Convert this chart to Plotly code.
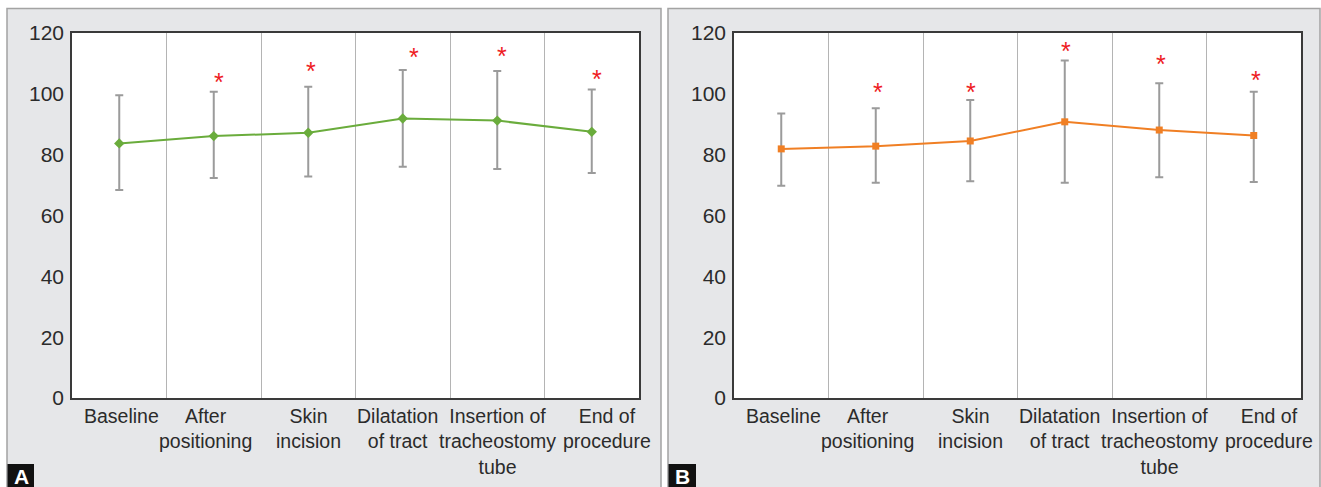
import plotly.graph_objects as go

categories = ["Baseline", "After<br>positioning", "Skin<br>incision", "Dilatation<br>of tract",
              "Insertion of<br>tracheostomy<br>tube", "End of<br>procedure"]
y_ticks = [0, 20, 40, 60, 80, 100, 120]

# Panel A (green)
a_mean = [83.7, 86.1, 87.2, 91.9, 91.2, 87.5]
a_upper = [99.5, 100.7, 102.3, 107.8, 107.5, 101.4]
a_lower = [68.4, 72.3, 72.8, 76.0, 75.3, 74.0]
a_star_y = [None, 105.3, 108.9, 113.3, 113.8, 106.2]

# Panel B (orange)
b_mean = [81.9, 82.8, 84.5, 90.8, 88.1, 86.3]
b_upper = [93.5, 95.3, 98.0, 111.0, 103.5, 100.7]
b_lower = [69.8, 70.8, 71.3, 70.8, 72.6, 71.0]
b_star_y = [None, 101.8, 101.8, 115.5, 111.1, 106.0]

W, H = 1321, 487
FONT = "Liberation Sans, Arial, sans-serif"
TXT = "#2b2b2b"
xs = list(range(len(categories)))
label_shift = [2, -8, 0, -5, 0, 15]

fig = go.Figure()

def add_series(mean, upper, lower, color, symbol, xa, ya):
    fig.add_trace(go.Scatter(
        x=xs, y=mean, mode="lines+markers", xaxis=xa, yaxis=ya,
        line=dict(color=color, width=2),
        marker=dict(symbol=symbol, size=8 if symbol == "diamond" else 7, color=color),
        error_y=dict(type="data", symmetric=False,
                     array=[u - m for u, m in zip(upper, mean)],
                     arrayminus=[m - l for m, l in zip(mean, lower)],
                     color="#9b9b9b", thickness=2, width=4),
        showlegend=False, hoverinfo="skip"))

add_series(a_mean, a_upper, a_lower, "#6aac3c", "diamond", "x", "y")
add_series(b_mean, b_upper, b_lower, "#f07f24", "square", "x2", "y2")

# panels
px = lambda v: v / W
py = lambda v: 1 - v / H
shapes = []
for x0, x1 in [(7, 661), (668, 1320)]:
    shapes.append(dict(type="rect", xref="paper", yref="paper", x0=px(x0), x1=px(x1),
                       y0=-0.05, y1=py(8.5), fillcolor="#e6e7e9",
                       line=dict(color="#a3a3a3", width=1.5), layer="below"))
for xr, yr in [("x domain", "y domain"), ("x2 domain", "y2 domain")]:
    shapes.append(dict(type="rect", xref=xr, yref=yr, x0=0, x1=1, y0=0, y1=1,
                       fillcolor="white", line=dict(width=0), layer="below"))
for x0, x1 in [(7.5, 34), (668.5, 696)]:
    shapes.append(dict(type="rect", xref="paper", yref="paper", x0=px(x0), x1=px(x1),
                       y0=-0.05, y1=py(464), fillcolor="#111111", line=dict(width=0), layer="above"))

annotations = []
for lab, xc in [("A", 21), ("B", 682)]:
    annotations.append(dict(text="<b>" + lab + "</b>", xref="paper", yref="paper",
                            x=px(xc), y=py(476), showarrow=False,
                            font=dict(family=FONT, size=21, color="white"),
                            xanchor="center", yanchor="middle"))
for stars, xr, yr, xshift_list in [(a_star_y, "x", "y", [0, 5, 3, 11, 5, 5]),
                                   (b_star_y, "x2", "y2", [0, 2, 1, 1, 2, 2])]:
    for i, s in enumerate(stars):
        if s is None:
            continue
        annotations.append(dict(text="*", x=i, y=s, xref=xr, yref=yr, showarrow=False,
                                xshift=xshift_list[i], yshift=-4,
                                font=dict(family=FONT, size=25, color="#ee1c24"),
                                xanchor="center", yanchor="middle"))
# category labels
for xr, yr in [("x", "y domain"), ("x2", "y2 domain")]:
    for i, cat in enumerate(categories):
        annotations.append(dict(text=cat, x=i, y=0, xref=xr, yref=yr, showarrow=False,
                                xshift=label_shift[i], yshift=-5,
                                font=dict(family=FONT, size=19.5, color=TXT),
                                xanchor="center", yanchor="top", align="center"))

xaxis_common = dict(range=[-0.5, 5.5], tickmode="array", tickvals=xs, showticklabels=False,
                    showgrid=False, zeroline=False, showline=True, mirror=True,
                    linecolor="#3a3a3a", linewidth=1.5, ticks="", automargin=False,
                    minor=dict(tickvals=[0.5, 1.5, 2.5, 3.5, 4.5], showgrid=True,
                               gridcolor="#b4b4b4", gridwidth=1.2, ticks=""),
                    fixedrange=True)
yaxis_common = dict(range=[0, 120], tickmode="array", tickvals=y_ticks,
                    showgrid=False, zeroline=False, showline=True, mirror=True,
                    linecolor="#3a3a3a", linewidth=1.5, ticks="", ticklabelstandoff=2,
                    automargin=False,
                    tickfont=dict(family=FONT, size=21, color=TXT), fixedrange=True)

fig.update_layout(
    width=W, height=H, margin=dict(l=0, r=0, t=0, b=0, autoexpand=False),
    paper_bgcolor="white", plot_bgcolor="white",
    xaxis=dict(domain=[px(72), px(639)], anchor="y", **xaxis_common),
    yaxis=dict(domain=[py(398), py(33)], anchor="x", **yaxis_common),
    xaxis2=dict(domain=[px(734), px(1301)], anchor="y2", **xaxis_common),
    yaxis2=dict(domain=[py(398), py(33)], anchor="x2", **yaxis_common),
    shapes=shapes, annotations=annotations,
)

fig.write_html("out.html", config={"displayModeBar": False},
               post_script="document.body.style.margin='0';document.body.style.padding='0';")
